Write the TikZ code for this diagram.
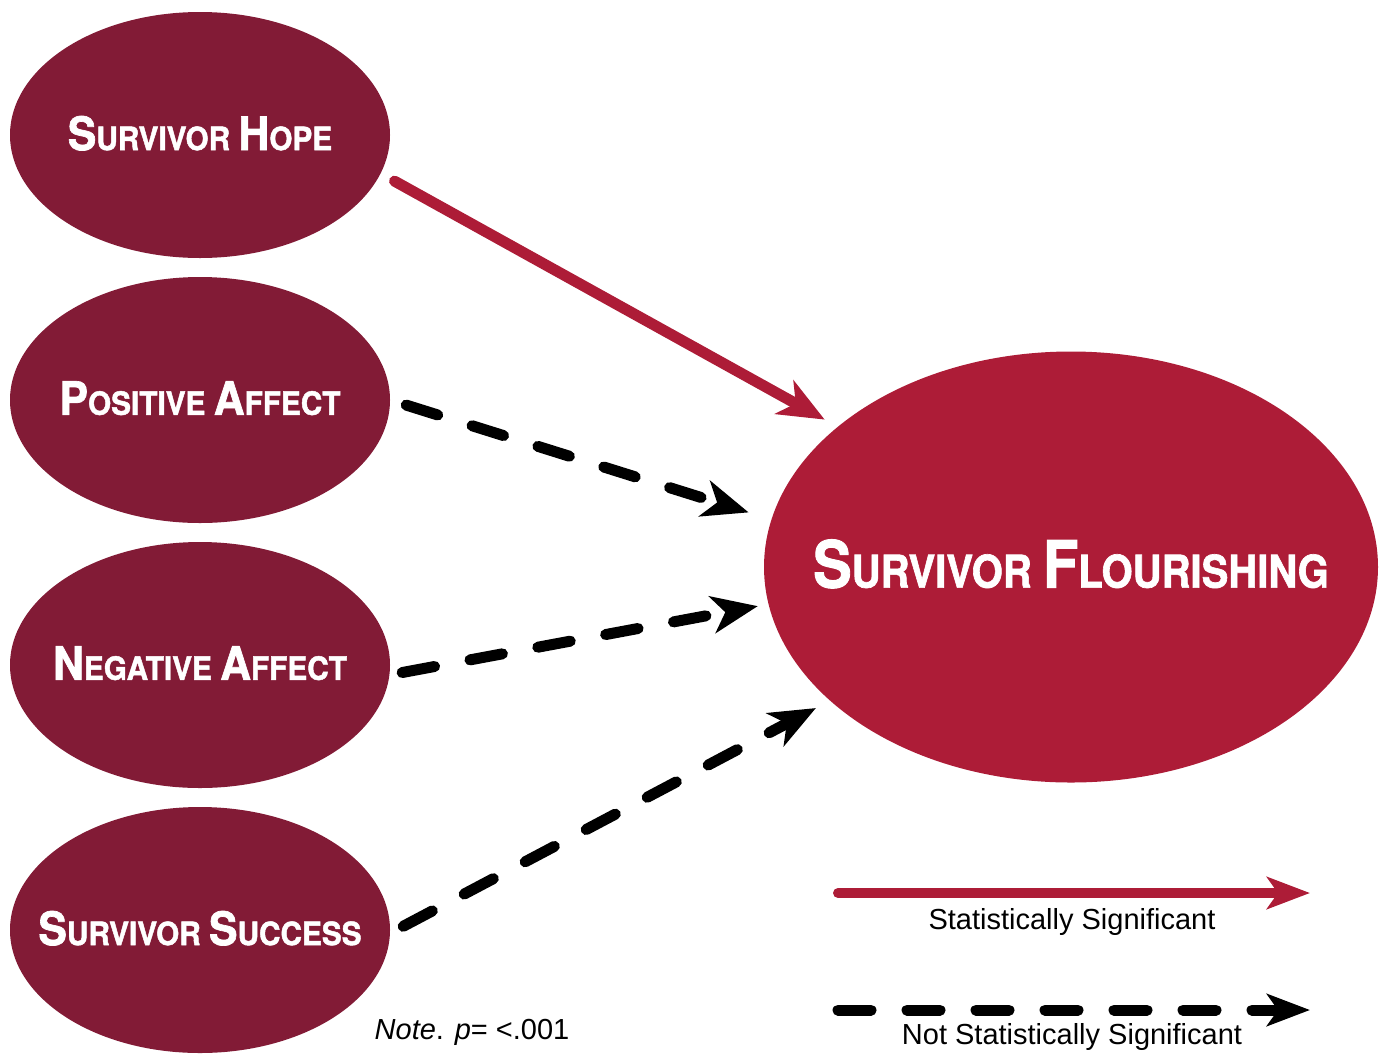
\documentclass[tikz,border=0pt]{standalone}
\usepackage{fontspec}
\setmainfont{Liberation Sans}
\newfontfamily\headfont{TeX Gyre Heros}[BoldFeatures={FakeBold=1.5}]
\usetikzlibrary{arrows.meta,shapes.geometric,positioning}
\definecolor{predred}{RGB}{130,27,54}
\definecolor{outred}{RGB}{173,28,55}
% fake small caps: big first letter, smaller capitals after it
\newcommand{\ssc}[2]{{\fontsize{46}{46}\selectfont #1}{\fontsize{32}{32}\selectfont #2}}
\newcommand{\bsc}[2]{{\fontsize{65}{65}\selectfont #1}{\fontsize{45}{45}\selectfont #2}}
% label of zero width, so the ellipse keeps its own size
\newcommand{\elab}[3]{\makebox[0pt]{\raisebox{#2}{\scalebox{#1}[1]{#3}}}}
\tikzset{
    predsty/.style={ellipse,fill=predred,minimum width=380pt,minimum height=246pt,inner sep=0pt,outer sep=0pt,text=white,font=\headfont\bfseries\fontsize{32}{32}\selectfont},
    outsty/.style={ellipse,fill=outred,minimum width=614pt,minimum height=431pt,inner sep=0pt,outer sep=0pt,text=white,font=\headfont\bfseries\fontsize{45}{45}\selectfont},
    sigsty/.style={draw=outred,line width=11pt,line cap=round,-{Stealth[length=46pt,width=38pt,inset=13pt]}},
    nssty/.style={draw=black,line width=11pt,line cap=round,dash pattern=on 33pt off 36pt,-{Stealth[length=46pt,width=37pt,inset=13pt]}},
    legsigsty/.style={sigsty,line width=10pt,-{Stealth[length=43pt,width=32pt,inset=11pt]}},
    legnssty/.style={nssty,-{Stealth[length=43pt,width=32pt,inset=11pt]}},
    legsty/.style={font=\fontsize{29}{32}\selectfont,inner sep=0pt},
}

\begin{document}
\begin{tikzpicture}[x=1pt,y=-1pt]
  \useasboundingbox (0,0) rectangle (1383,1053);

  \node[predsty] (hope) at (200,135) {\elab{0.93}{4pt}{\ssc{S}{URVIVOR} \ssc{H}{OPE}}};
  \node[predsty] (pos)  at (200,400) {\elab{0.93}{4pt}{\ssc{P}{OSITIVE} \ssc{A}{FFECT}}};
  \node[predsty] (neg)  at (200,665) {\elab{0.93}{4pt}{\ssc{N}{EGATIVE} \ssc{A}{FFECT}}};
  \node[predsty] (succ) at (200,930) {\elab{0.93}{4pt}{\ssc{S}{URVIVOR} \ssc{S}{UCCESS}}};

  \node[outsty] (flour) at (1071,567) {\elab{0.89}{7pt}{\bsc{S}{URVIVOR} \bsc{F}{LOURISHING}}};

  \draw[sigsty, shorten <=16pt, shorten >=15pt] (hope.-12) -- (flour.149);
  \draw[nssty, shorten <=17pt, shorten >=24pt] (pos.0) -- (flour.171);
  \draw[nssty, shorten <=13pt, shorten >=11pt] (neg.-3) -- (flour.187);
  \draw[nssty, shorten <=15pt, shorten >=16pt] (succ.-1) -- (flour.-151);

  % legend
  \coordinate (sigA) at (838,893);
  \coordinate (sigB) at (1310,893);
  \coordinate (nsA) at (838,1010);
  \coordinate (nsB) at (1310,1010);
  \draw[legsigsty] (sigA) -- (sigB);
  \draw[legnssty] (nsA) -- (nsB);
  \node[legsty] (sigtxt) at (1072,922) {Statistically Significant};
  \node[legsty] (nstxt) at (1072,1037) {Not Statistically Significant};

  \node[legsty] (note) at (472,1032) {\textit{Note}. \textit{p}= <.001};
\end{tikzpicture}
\end{document}
